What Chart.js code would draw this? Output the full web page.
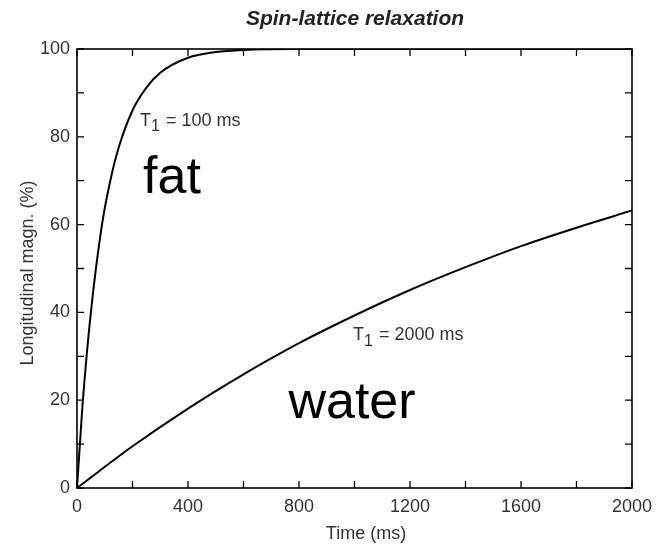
<!DOCTYPE html>
<html>
<head>
<meta charset="utf-8">
<script src="https://cdn.jsdelivr.net/npm/chart.js@4.4.0/dist/chart.umd.min.js"></script>
<style>
  html, body { margin: 0; padding: 0; background: #fff; }
  #wrap { width: 663px; height: 545px; }
</style>
</head>
<body>
<div id="wrap"><canvas id="c" width="663" height="545"></canvas></div>
<script>
// values
const fatTimes = [0, 10, 20, 50, 90, 120, 150, 200, 250, 300, 400, 500, 600, 800, 1000, 2000];
const fatValues = [0, 9.5, 19, 40, 60, 70, 77.5, 86, 91.2, 94.6, 98, 99.3, 99.8, 100, 100, 100];
const waterTimes = [0, 200, 400, 600, 800, 1000, 1200, 1400, 1600, 1800, 2000];
const waterValues = [0, 9.5, 18.1, 25.9, 33, 39.3, 45.1, 50.3, 55.1, 59.3, 63.2];
const xTicks = [0, 400, 800, 1200, 1600, 2000];
const yTicks = [0, 20, 40, 60, 80, 100];
const xMinor = [0, 200, 400, 600, 800, 1000, 1200, 1400, 1600, 1800, 2000];
const yMinor = [0, 10, 20, 30, 40, 50, 60, 70, 80, 90, 100];

const FONT = '"Liberation Sans", Arial, sans-serif';
const toPts = (xs, ys) => xs.map((x, i) => ({ x: x, y: ys[i] }));

const frame = {
  id: 'frame',
  afterDraw(chart) {
    const { ctx, chartArea: a, scales: { x, y } } = chart;
    ctx.save();
    ctx.strokeStyle = '#000';
    ctx.lineWidth = 1.6;
    ctx.strokeRect(a.left, a.top, a.right - a.left, a.bottom - a.top);
    ctx.lineWidth = 1.3;
    ctx.beginPath();
    xMinor.forEach(v => {
      const px = x.getPixelForValue(v);
      ctx.moveTo(px, a.bottom); ctx.lineTo(px, a.bottom - 7);
      ctx.moveTo(px, a.top); ctx.lineTo(px, a.top + 7);
    });
    yMinor.forEach(v => {
      const py = y.getPixelForValue(v);
      ctx.moveTo(a.left, py); ctx.lineTo(a.left + 7, py);
      ctx.moveTo(a.right, py); ctx.lineTo(a.right - 7, py);
    });
    ctx.stroke();

    // title + axis titles
    ctx.fillStyle = '#222';
    ctx.textAlign = 'center';
    ctx.textBaseline = 'middle';
    ctx.font = 'italic bold 21px ' + FONT;
    ctx.fillText('Spin-lattice relaxation', 355, 19);
    ctx.fillStyle = '#333';
    ctx.font = '18px ' + FONT;
    ctx.fillText('Time (ms)', 366, 534);
    ctx.save();
    ctx.translate(28, 273);
    ctx.rotate(-Math.PI / 2);
    ctx.fillText('Longitudinal magn. (%)', 0, 0);
    ctx.restore();

    // curve labels
    const t1 = (txt, px, py) => {
      ctx.textAlign = 'left';
      ctx.font = '18px ' + FONT;
      ctx.fillText('T', px, py);
      let w = ctx.measureText('T').width;
      ctx.font = '16px ' + FONT;
      ctx.fillText('1', px + w, py + 6);
      w += ctx.measureText('1').width;
      ctx.font = '18px ' + FONT;
      ctx.fillText(txt, px + w + 1, py);
    };
    ctx.fillStyle = '#333';
    t1(' = 100 ms', x.getPixelForValue(227), y.getPixelForValue(83.7));
    t1(' = 2000 ms', x.getPixelForValue(995), y.getPixelForValue(34.8));
    ctx.fillStyle = '#000';
    ctx.font = '52px ' + FONT;
    ctx.textAlign = 'left';
    ctx.textBaseline = 'alphabetic';
    ctx.fillText('fat', x.getPixelForValue(238), y.getPixelForValue(67.1));
    ctx.fillText('water', x.getPixelForValue(762), y.getPixelForValue(15.9));
    ctx.restore();
  }
};

new Chart(document.getElementById('c'), {
  type: 'line',
  data: {
    datasets: [
      { label: 'fat', data: toPts(fatTimes, fatValues), borderColor: '#000', borderWidth: 2, pointRadius: 0, cubicInterpolationMode: 'monotone', fill: false },
      { label: 'water', data: toPts(waterTimes, waterValues), borderColor: '#000', borderWidth: 2, pointRadius: 0, cubicInterpolationMode: 'monotone', fill: false }
    ]
  },
  options: {
    responsive: false,
    animation: false,
    layout: { padding: { left: 0, right: 31, top: 49, bottom: 0 } },
    plugins: { legend: { display: false }, title: { display: false }, tooltip: { enabled: false } },
    scales: {
      x: {
        type: 'linear', min: 0, max: 2000,
        afterFit: s => { s.height = 57; },
        afterBuildTicks: s => { s.ticks = xTicks.map(v => ({ value: v })); },
        grid: { display: false, drawTicks: false },
        border: { display: false },
        ticks: { color: '#333', padding: 8, callback: v => String(v), font: { size: 18, family: FONT }, maxRotation: 0 }
      },
      y: {
        type: 'linear', min: 0, max: 100,
        afterFit: s => { s.width = 77; },
        afterBuildTicks: s => { s.ticks = yTicks.map(v => ({ value: v })); },
        grid: { display: false, drawTicks: false },
        border: { display: false },
        ticks: { color: '#333', padding: 7, callback: v => String(v), font: { size: 18, family: FONT } }
      }
    }
  },
  plugins: [frame]
});
</script>
</body>
</html>
